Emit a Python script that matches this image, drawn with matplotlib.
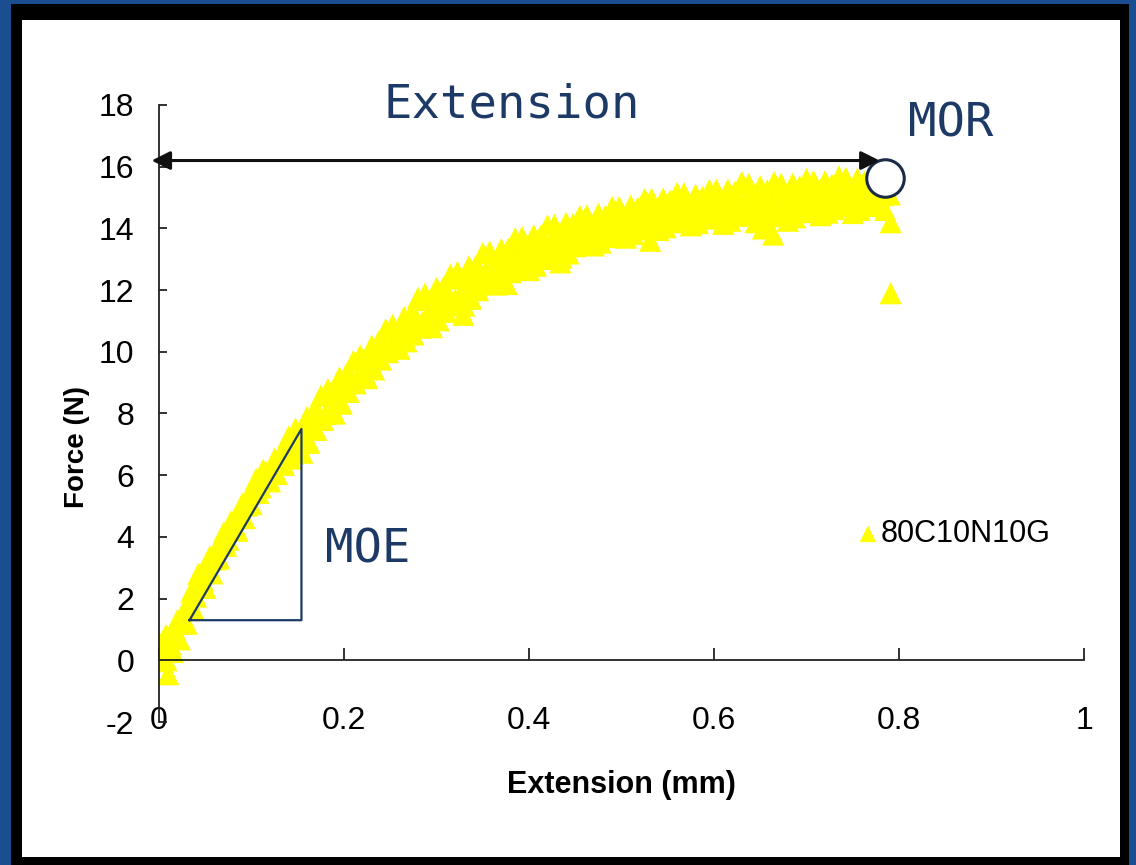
import matplotlib.pyplot as plt
from matplotlib.patches import Rectangle

# --- Data: flexural test, force vs extension ---
extension = [
    0.000, 0.005, 0.010, 0.015, 0.020, 0.025, 0.030, 0.035, 0.040, 0.045,
    0.050, 0.055, 0.060, 0.065, 0.070, 0.075, 0.080, 0.085, 0.090, 0.095,
    0.100, 0.105, 0.110, 0.115, 0.120, 0.125, 0.130, 0.135, 0.140, 0.145,
    0.150, 0.155, 0.160, 0.165, 0.170, 0.175, 0.180, 0.185, 0.190, 0.195,
    0.200, 0.205, 0.210, 0.215, 0.220, 0.225, 0.230, 0.235, 0.240, 0.245,
    0.250, 0.255, 0.260, 0.265, 0.270, 0.275, 0.280, 0.285, 0.290, 0.295,
    0.300, 0.305, 0.310, 0.315, 0.320, 0.325, 0.330, 0.335, 0.340, 0.345,
    0.350, 0.355, 0.360, 0.365, 0.370, 0.375, 0.380, 0.385, 0.390, 0.395,
    0.400, 0.405, 0.410, 0.415, 0.420, 0.425, 0.430, 0.435, 0.440, 0.445,
    0.450, 0.455, 0.460, 0.465, 0.470, 0.475, 0.480, 0.485, 0.490, 0.495,
    0.500, 0.505, 0.510, 0.515, 0.520, 0.525, 0.530, 0.535, 0.540, 0.545,
    0.550, 0.555, 0.560, 0.565, 0.570, 0.575, 0.580, 0.585, 0.590, 0.595,
    0.600, 0.605, 0.610, 0.615, 0.620, 0.625, 0.630, 0.635, 0.640, 0.645,
    0.650, 0.655, 0.660, 0.665, 0.670, 0.675, 0.680, 0.685, 0.690, 0.695,
    0.700, 0.705, 0.710, 0.715, 0.720, 0.725, 0.730, 0.735, 0.740, 0.745,
    0.750, 0.755, 0.760, 0.765, 0.770, 0.775, 0.780, 0.785, 0.790,
    0.0025, 0.0075, 0.0125, 0.0175, 0.0225, 0.0275, 0.0325, 0.0375, 0.0425,
    0.0475, 0.0525, 0.0575, 0.0625, 0.0675, 0.0725, 0.0775, 0.0825, 0.0875,
    0.0925, 0.0975, 0.1025, 0.1075, 0.1125, 0.1175, 0.1225, 0.1275, 0.1325,
    0.1375, 0.1425, 0.1475, 0.1525, 0.1575, 0.1625, 0.1675, 0.1725, 0.1775,
    0.1825, 0.1875, 0.1925, 0.1975, 0.2025, 0.2075, 0.2125, 0.2175, 0.2225,
    0.2275, 0.2325, 0.2375, 0.2425, 0.2475, 0.2525, 0.2575, 0.2625, 0.2675,
    0.2725, 0.2775, 0.2825, 0.2875, 0.2925, 0.2975, 0.3025, 0.3075, 0.3125,
    0.3175, 0.3225, 0.3275, 0.3325, 0.3375, 0.3425, 0.3475, 0.3525, 0.3575,
    0.3625, 0.3675, 0.3725, 0.3775, 0.3825, 0.3875, 0.3925, 0.3975, 0.4025,
    0.4075, 0.4125, 0.4175, 0.4225, 0.4275, 0.4325, 0.4375, 0.4425, 0.4475,
    0.4525, 0.4575, 0.4625, 0.4675, 0.4725, 0.4775, 0.4825, 0.4875, 0.4925,
    0.4975, 0.5025, 0.5075, 0.5125, 0.5175, 0.5225, 0.5275, 0.5325, 0.5375,
    0.5425, 0.5475, 0.5525, 0.5575, 0.5625, 0.5675, 0.5725, 0.5775, 0.5825,
    0.5875, 0.5925, 0.5975, 0.6025, 0.6075, 0.6125, 0.6175, 0.6225, 0.6275,
    0.6325, 0.6375, 0.6425, 0.6475, 0.6525, 0.6575, 0.6625, 0.6675, 0.6725,
    0.6775, 0.6825, 0.6875, 0.6925, 0.6975, 0.7025, 0.7075, 0.7125, 0.7175,
    0.7225, 0.7275, 0.7325, 0.7375, 0.7425, 0.7475, 0.7525, 0.7575, 0.7625,
    0.7675, 0.7725, 0.7775, 0.7825,
    0.008, 0.010, 0.329, 0.376, 0.434, 0.531, 0.653, 0.664, 0.791, 0.791,
]
force = [
    0.60, 0.15, 0.73, 0.27, 1.31, 1.18, 1.19, 2.23, 2.07, 2.76,
    2.35, 3.37, 3.27, 3.30, 4.15, 3.91, 4.48, 4.20, 5.08, 5.02,
    5.06, 5.88, 5.61, 6.13, 5.80, 6.53, 6.42, 6.34, 7.25, 6.71,
    7.38, 6.73, 7.89, 7.60, 7.47, 8.58, 7.98, 8.66, 8.00, 9.17,
    8.85, 8.70, 9.70, 9.15, 9.75, 9.15, 10.20, 9.90, 9.75, 10.73,
    10.15, 10.73, 10.10, 11.13, 10.80, 10.56, 11.75, 10.97, 11.68, 10.80,
    12.07, 11.59, 11.30, 12.50, 11.69, 12.38, 11.50, 12.77, 12.29, 12.00,
    13.20, 12.37, 13.00, 12.18, 13.33, 12.87, 12.58, 13.68, 12.91, 13.50,
    12.65, 13.78, 13.29, 13.01, 14.10, 13.31, 13.90, 13.05, 14.18, 13.69,
    13.42, 14.40, 13.68, 14.23, 13.45, 14.47, 14.00, 13.72, 14.70, 13.96,
    14.48, 13.70, 14.74, 14.28, 13.97, 14.95, 14.23, 14.76, 13.95, 14.97,
    14.50, 14.20, 15.15, 14.41, 14.93, 14.10, 15.09, 14.63, 14.32, 15.25,
    14.46, 15.03, 14.15, 15.26, 14.74, 14.41, 15.50, 14.59, 15.18, 14.20,
    15.37, 14.79, 14.40, 15.50, 14.59, 15.21, 14.25, 15.45, 14.89, 14.53,
    15.60, 14.76, 15.30, 14.43, 15.53, 14.99, 14.63, 15.68, 14.86, 15.40,
    14.50, 15.61, 15.09, 14.73, 15.75, 14.94, 15.50, 14.60, 15.10,
    -0.03, 0.82, 0.52, 0.97, 0.68, 1.63, 1.69, 1.65, 2.80,
    2.58, 3.06, 2.82, 3.64, 3.71, 3.72, 4.49, 4.36, 4.78,
    4.61, 5.39, 5.45, 5.43, 6.17, 5.98, 6.26, 6.04, 6.76,
    6.70, 6.54, 7.51, 7.08, 7.53, 7.05, 8.08, 8.00, 7.79,
    8.79, 8.36, 8.81, 8.32, 9.28, 9.18, 8.98, 9.88, 9.48,
    9.88, 9.43, 10.33, 10.22, 9.99, 10.87, 10.44, 10.82, 10.34,
    11.22, 11.10, 10.78, 11.88, 11.27, 11.70, 11.02, 12.09, 11.87,
    11.51, 12.59, 11.97, 12.40, 11.72, 12.79, 12.57, 12.20, 13.25,
    12.62, 13.00, 12.35, 13.33, 13.10, 12.76, 13.72, 13.11, 13.46,
    12.79, 13.75, 13.53, 13.17, 14.12, 13.51, 13.86, 13.19, 14.14,
    13.88, 13.55, 14.42, 13.87, 14.18, 13.54, 14.41, 14.18, 13.84,
    14.69, 14.12, 14.44, 13.82, 14.67, 14.43, 14.10, 14.96, 14.38,
    14.68, 14.04, 14.90, 14.65, 14.29, 15.14, 14.54, 14.82, 14.17,
    15.02, 14.76, 14.37, 15.26, 14.62, 14.95, 14.25, 15.18, 14.90,
    14.46, 15.44, 14.72, 15.05, 14.27, 15.24, 14.92, 14.46, 15.45,
    14.76, 15.11, 14.36, 15.36, 15.06, 14.64, 15.54, 14.90, 15.22,
    14.51, 15.41, 15.13, 14.73, 15.64, 14.98, 15.30, 14.60, 15.51,
    15.21, 14.80, 15.73, 15.08,
    0.00, -0.45, 11.20, 12.20, 12.90, 13.60, 14.00, 13.80, 14.20, 11.90,
]
series_label = '80C10N10G'

x_ticks = [0, 0.2, 0.4, 0.6, 0.8, 1]
x_tick_labels = ['0', '0.2', '0.4', '0.6', '0.8', '1']
y_ticks = [-2, 0, 2, 4, 6, 8, 10, 12, 14, 16, 18]
y_tick_labels = ['-2', '0', '2', '4', '6', '8', '10', '12', '14', '16', '18']

# slope triangle for the modulus, peak point for the rupture
moe_x = [0.033, 0.154, 0.154, 0.033]
moe_y = [1.30, 7.50, 1.30, 1.30]
mor_x, mor_y = 0.785, 15.63
span_start, span_end, span_force = -0.008, 0.779, 16.2

# --- Style ---
sans = ['Liberation Sans', 'DejaVu Sans']
mono = ['DejaVu Sans Mono']
navy = '#1d3a66'
yellow = '#ffff00'

fig = plt.figure(figsize=(11.36, 8.65), dpi=100)
fig.patch.set_facecolor('#1b4d91')

# slide frame: black border and white panel
fig.add_artist(Rectangle((11 / 1136, 0), 1118 / 1136, 861 / 865,
                         transform=fig.transFigure, facecolor='black',
                         edgecolor='none', zorder=0))
fig.add_artist(Rectangle((22 / 1136, 8 / 865), 1098 / 1136, 837 / 865,
                         transform=fig.transFigure, facecolor='white',
                         edgecolor='none', zorder=0))

ax = fig.add_axes([159 / 1136, 143 / 865, 925 / 1136, 617 / 865])
ax.set_facecolor('none')

ax.scatter(extension, force, marker='^', s=16 ** 2, color=yellow,
           edgecolors='none', zorder=2, label=series_label)

# MOE triangle
ax.plot(moe_x, moe_y, color=navy, lw=1.6, zorder=3)

# MOR marker
ax.plot([mor_x], [mor_y], marker='o', ms=27, mfc='white', mec='#1c2b45',
        mew=2.2, zorder=4)

# extension span arrow
ax.annotate('', xy=(span_end, span_force), xytext=(span_start, span_force),
            arrowprops=dict(arrowstyle='<|-|>', color='#111111', lw=2.2,
                            mutation_scale=28, shrinkA=0, shrinkB=0),
            annotation_clip=False, zorder=5)

ax.text(0.381, 18.0, 'Extension', family=mono, fontsize=34, color=navy,
        ha='center', va='center')
ax.text(0.856, 17.4, 'MOR', family=mono, fontsize=34, color=navy,
        ha='center', va='center')
ax.text(0.226, 3.56, 'MOE', family=mono, fontsize=34, color=navy,
        ha='center', va='center')

# --- Axes ---
ax.set_xlim(0, 1)
ax.set_ylim(-2, 18)
ax.spines['top'].set_visible(False)
ax.spines['right'].set_visible(False)
ax.spines['bottom'].set_position(('data', 0))
for side in ('left', 'bottom'):
    ax.spines[side].set_linewidth(1.3)
    ax.spines[side].set_color('#222222')

ax.set_xticks(x_ticks)
ax.set_xticklabels(x_tick_labels, family=sans, fontsize=23)
ax.set_yticks(y_ticks)
ax.set_yticklabels(y_tick_labels, family=sans, fontsize=23)
ax.tick_params(axis='x', direction='in', length=9, width=1.3, pad=33,
               color='#222222')
ax.tick_params(axis='y', direction='in', length=6, width=1.3, pad=18,
               color='#222222')

ax.set_xlabel('Extension (mm)', family=sans, fontsize=22, fontweight='bold')
ax.xaxis.set_label_coords(0.500, -0.078)
ax.set_ylabel('Force (N)', family=sans, fontsize=20, fontweight='bold')
ax.yaxis.set_label_coords(-0.075, 0.445)

ax.legend(loc='center left', bbox_to_anchor=(0.74, 0.305), frameon=False,
          prop={'family': sans, 'size': 22}, handlelength=0.6,
          handletextpad=0.1, borderpad=0, markerscale=0.75)

plt.savefig('out.png', dpi=100, facecolor=fig.get_facecolor())
